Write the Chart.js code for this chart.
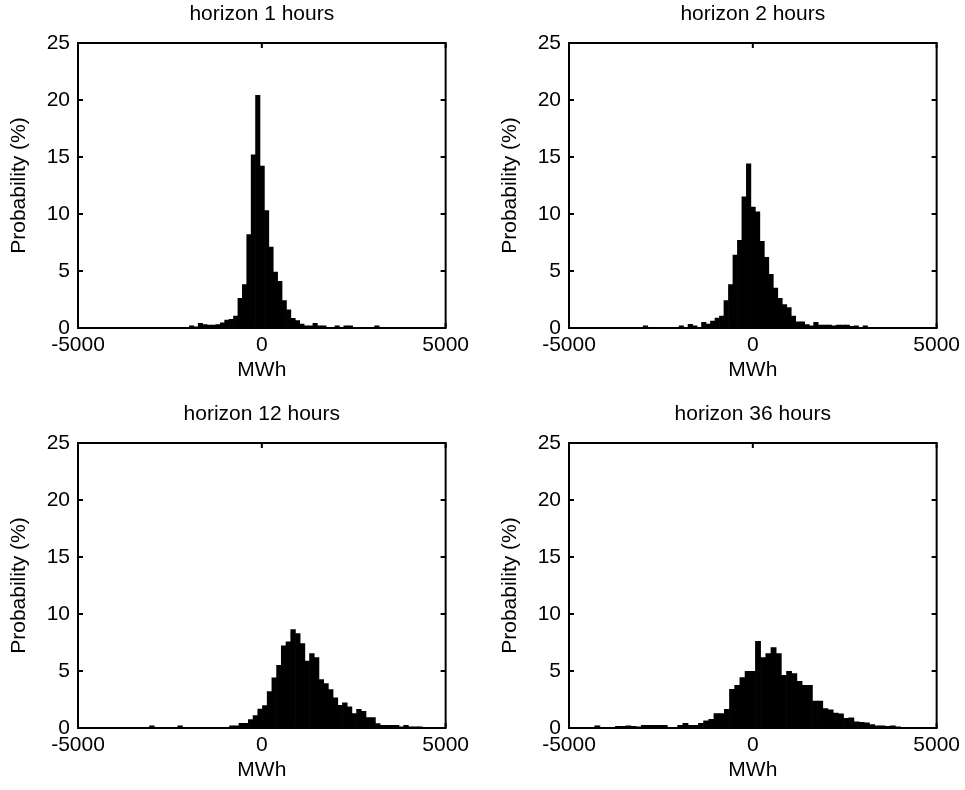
<!DOCTYPE html>
<html>
<head>
<meta charset="utf-8">
<script src="https://cdn.jsdelivr.net/npm/chart.js@4.4.0/dist/chart.umd.min.js"></script>
<style>
  html, body { margin: 0; padding: 0; background: #fff; overflow: hidden; }
  .panel { position: absolute; width: 474px; height: 395px; }
</style>
</head>
<body>
<div class="panel" style="left:0;top:0"><canvas id="h1" width="474" height="395"></canvas></div>
<div class="panel" style="left:491px;top:0"><canvas id="h2" width="474" height="395"></canvas></div>
<div class="panel" style="left:0;top:400px"><canvas id="h12" width="474" height="395"></canvas></div>
<div class="panel" style="left:491px;top:400px"><canvas id="h36" width="474" height="395"></canvas></div>
<script>
// panel titles
const titles = ['horizon 1 hours', 'horizon 2 hours', 'horizon 12 hours', 'horizon 36 hours'];

// histogram bins: centre of first bin and bin width (MWh) for each panel
const binStart = [-1910, -2920, -2990, -4230];
const binWidth = [120, 122, 128, 141];

// probability (%) per bin
const prob1 = [0.2, 0.1, 0.4, 0.3, 0.25, 0.25, 0.3, 0.45, 0.7, 0.75, 1.05,
    2.6, 3.8, 8.2, 15.2, 20.4, 14.2, 10.3, 7.1, 4.9, 4.1, 2.4, 1.6, 0.85, 0.65, 0.35,
    0.2, 0.2, 0.4, 0.2, 0.2, 0, 0, 0.2, 0, 0.2, 0.2, 0, 0, 0, 0, 0, 0.2];

const prob2 = [0.18, 0, 0, 0, 0, 0, 0, 0, 0.18, 0, 0.32, 0.2, 0, 0.5, 0.35, 0.6, 0.88, 1.05,
    2.4, 3.8, 6.4, 7.7, 11.5, 14.4, 10.6, 10.2, 7.6, 6.2, 4.7, 3.5, 2.6, 2.05, 1.8, 1.05,
    0.55, 0.55, 0.3, 0.2, 0.5, 0.25, 0.25, 0.25, 0.2, 0.25, 0.25, 0.25, 0.15, 0.2, 0, 0.2];

const prob12 = [0.2, 0, 0, 0, 0, 0, 0.2, 0, 0, 0, 0, 0, 0, 0, 0, 0, 0,
    0.2, 0.2, 0.4, 0.4, 0.73, 1.08, 1.67, 1.96, 3.2, 4.4, 5.5, 7.2, 7.55,
    8.64, 8.29, 7.4, 5.86, 6.53, 6.18, 4.25, 3.9, 3.37, 2.64, 1.99, 2.2, 1.85, 1.26, 1.64, 1.46,
    0.91, 0.91, 0.38, 0.23, 0.23, 0.23, 0.23, 0.1, 0.23, 0.1, 0.1, 0.1];

const prob36 = [0.2, 0, 0, 0, 0.15, 0.15, 0.2, 0.15, 0.1, 0.23, 0.23, 0.23, 0.23, 0.23, 0.06, 0.06,
    0.23, 0.41, 0.23, 0.23, 0.41, 0.62, 0.76, 1.26, 1.26, 1.64, 3.4, 3.75, 4.42, 4.98, 4.98,
    7.61, 6.18, 6.53, 7.06, 6.53, 4.63, 4.98, 4.78, 4.1, 3.75, 3.75, 2.37, 2.37, 1.7,
    1.6, 1.3, 1.25, 0.85, 0.9, 0.55, 0.5, 0.45, 0.3, 0.2, 0.2, 0.15, 0.2, 0.1];

const series = [prob1, prob2, prob12, prob36];
const canvasIds = ['h1', 'h2', 'h12', 'h36'];

// axis ticks
const xTicks = [-5000, 0, 5000];
const yTicks = [0, 5, 10, 15, 20, 25];

Chart.defaults.font.family = '"Liberation Sans", Arial, sans-serif';
Chart.defaults.font.size = 21;
Chart.defaults.color = '#000';

// box round the plot with short inward ticks on every side
const boxAxes = {
    id: 'boxAxes',
    afterDatasetsDraw(chart) {
        const { ctx, chartArea: a, scales: { x, y } } = chart;
        ctx.save();
        ctx.strokeStyle = '#000';
        ctx.lineWidth = 2;
        ctx.strokeRect(a.left, a.top, a.right - a.left, a.bottom - a.top);
        ctx.beginPath();
        xTicks.forEach(v => {
            const px = x.getPixelForValue(v);
            ctx.moveTo(px, a.bottom); ctx.lineTo(px, a.bottom - 5);
            ctx.moveTo(px, a.top); ctx.lineTo(px, a.top + 5);
        });
        yTicks.forEach(v => {
            const py = y.getPixelForValue(v);
            ctx.moveTo(a.left, py); ctx.lineTo(a.left + 5, py);
            ctx.moveTo(a.right, py); ctx.lineTo(a.right - 5, py);
        });
        ctx.stroke();
        ctx.restore();
    }
};

function renderHistogram(i) {
    const ctx = document.getElementById(canvasIds[i]).getContext('2d');
    const points = series[i].map((p, k) => ({ x: binStart[i] + k * binWidth[i], y: p }));

    new Chart(ctx, {
        type: 'bar',
        data: {
            datasets: [{
                data: points,
                xAxisID: 'x',
                yAxisID: 'y',
                backgroundColor: '#000',
                borderWidth: 0,
                barPercentage: 1,
                categoryPercentage: 1
            }]
        },
        options: {
            responsive: false,
            animation: false,
            layout: { padding: { left: 0, right: 26, top: 0, bottom: 0 } },
            plugins: {
                legend: { display: false },
                tooltip: { enabled: false }
            },
            scales: {
                x: {
                    type: 'linear',
                    min: -5000,
                    max: 5000,
                    offset: false,
                    grid: { display: false, drawTicks: false },
                    border: { display: false },
                    afterBuildTicks: s => { s.ticks = xTicks.map(v => ({ value: v })); },
                    ticks: { padding: 5, maxRotation: 0, callback: v => String(v) },
                    title: { display: true, text: 'MWh', padding: { top: 0, bottom: 12 } },
                    afterFit: s => { s.height = 67; }
                },
                // top axis only carries the panel title, centred over the plot box
                top: {
                    type: 'linear',
                    position: 'top',
                    min: -5000,
                    max: 5000,
                    offset: false,
                    grid: { display: false, drawTicks: false },
                    border: { display: false },
                    ticks: { display: false },
                    title: { display: true, text: titles[i], padding: { top: 2, bottom: 0 } },
                    afterFit: s => { s.height = 43; }
                },
                y: {
                    min: 0,
                    max: 25,
                    grid: { display: false, drawTicks: false },
                    border: { display: false },
                    afterBuildTicks: s => { s.ticks = yTicks.map(v => ({ value: v })); },
                    ticks: { padding: 8, callback: v => String(v) },
                    title: { display: true, text: 'Probability (%)', padding: { top: 7, bottom: 0 } },
                    afterFit: s => { s.width = 78; }
                }
            }
        },
        plugins: [boxAxes]
    });
}

document.addEventListener('DOMContentLoaded', () => {
    series.forEach((_, i) => renderHistogram(i));
});
</script>
</body>
</html>
